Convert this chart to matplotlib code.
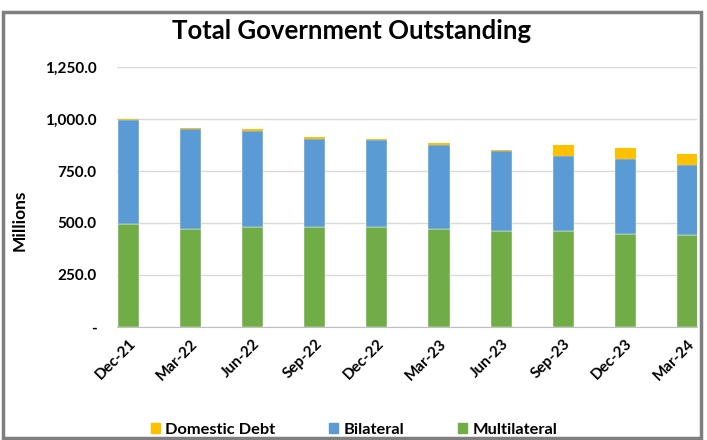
import numpy as np
import matplotlib.pyplot as plt
from matplotlib.patches import Rectangle, Patch
from matplotlib.ticker import FuncFormatter

plt.rcParams['font.family'] = ['Lato', 'DejaVu Sans']

quarters = ['Dec-21', 'Mar-22', 'Jun-22', 'Sep-22', 'Dec-22',
            'Mar-23', 'Jun-23', 'Sep-23', 'Dec-23', 'Mar-24']
multilateral = [495, 471, 479, 479, 479, 471, 463, 463, 449, 441]
bilateral = [500, 479, 463, 425, 418, 404, 381, 361, 360, 338]
domestic = [5, 7, 8, 8, 8, 8, 8, 53, 52, 53]

c_dom = '#FFC000'
c_bil = '#5B9BD5'
c_mul = '#70AD47'

fig = plt.figure(figsize=(7.07, 4.40), dpi=100)
W, H = 707, 440

# outer frame of the chart
fig.patches.append(Rectangle((3 / W, 2 / H), 698 / W, 426 / H,
                             transform=fig.transFigure, fill=False,
                             edgecolor='#7F7F7F', linewidth=2.5))

ax = fig.add_axes([117 / W, 1 - 327 / H, 580 / W, 260 / H])

x = np.arange(len(quarters))
w = 0.34
mul = np.array(multilateral)
bil = np.array(bilateral)
dom = np.array(domestic)
ax.bar(x, mul, w, color=c_mul, edgecolor='white', linewidth=0.3, zorder=3)
ax.bar(x, bil, w, bottom=mul, color=c_bil, edgecolor='white', linewidth=0.3, zorder=3)
ax.bar(x, dom, w, bottom=mul + bil, color=c_dom, linewidth=0, zorder=3)

ax.set_xlim(-0.185, 9.155)
ax.set_ylim(0, 1250)
ax.set_yticks(np.arange(0, 1251, 250))
ax.yaxis.set_major_formatter(FuncFormatter(lambda v, p: '-' if v == 0 else f'{v:,.1f}'))
ax.grid(axis='y', color='#D9D9D9', linewidth=1, zorder=0)
for s in ['top', 'right', 'left']:
    ax.spines[s].set_visible(False)
ax.spines['bottom'].set_color('#BFBFBF')
ax.tick_params(axis='y', length=0, pad=14.5, labelsize=11)
ax.tick_params(axis='x', length=0, pad=7, labelsize=11)
ax.set_xticks(x)
ax.set_xticklabels(quarters, rotation=45, ha='right', rotation_mode='anchor')
for lab in ax.get_xticklabels() + ax.get_yticklabels():
    lab.set_fontweight('bold')

ax.set_ylabel('Millions', fontsize=12.5, fontweight='bold')
ax.yaxis.set_label_coords(20 / W, 0.5, transform=fig.transFigure)
ax.yaxis.label.set_va('center')

fig.text(352 / W, 1 - 31 / H, 'Total Government Outstanding', ha='center', va='center',
         fontsize=18.5, fontweight='bold')

handles = [Patch(color=c_dom, label='Domestic Debt'),
           Patch(color=c_bil, label='Bilateral'),
           Patch(color=c_mul, label='Multilateral')]
leg = fig.legend(handles=handles, loc='center', bbox_to_anchor=(354 / W, 1 - 430 / H),
                 ncol=3, frameon=False, handlelength=0.55, handleheight=0.55,
                 handletextpad=0.35, columnspacing=3.25,
                 prop={'size': 11.8, 'weight': 'bold'})

fig.savefig('out.png', dpi=100)
